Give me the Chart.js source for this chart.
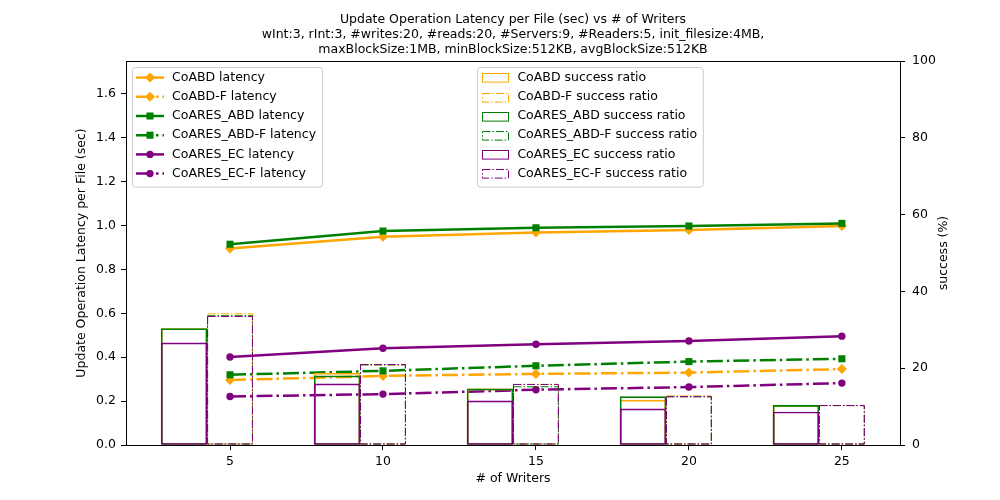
<!DOCTYPE html>
<html>
<head>
<meta charset="utf-8">
<title>Update Operation Latency per File (sec) vs # of Writers</title>
<script src="https://cdn.jsdelivr.net/npm/chart.js@4.4.1/dist/chart.umd.min.js"></script>
<style>
  html, body { margin: 0; padding: 0; background: #fff; }
  #wrap { width: 1000px; height: 500px; }
</style>
</head>
<body>
<div id="wrap"><canvas id="latencyChart"></canvas></div>
<script>
// values
const writers = [5, 10, 15, 20, 25];

const coabdLatency = [0.896, 0.949, 0.968, 0.980, 0.998];
const coabdFLatency = [0.296, 0.315, 0.324, 0.330, 0.346];
const coaresAbdLatency = [0.915, 0.975, 0.990, 0.998, 1.010];
const coaresAbdFLatency = [0.320, 0.338, 0.361, 0.380, 0.393];
const coaresEcLatency = [0.401, 0.441, 0.459, 0.474, 0.496];
const coaresEcFLatency = [0.221, 0.232, 0.252, 0.264, 0.282];

const coabdSuccess = [30.3, 18.7, 14.6, 11.7, 10.3];
const coabdFSuccess = [34.3, 21.0, 15.9, 12.9, 10.4];
const coaresAbdSuccess = [30.3, 18.0, 14.6, 12.6, 10.3];
const coaresAbdFSuccess = [33.8, 21.0, 15.3, 12.7, 10.4];
const coaresEcSuccess = [26.6, 15.9, 11.5, 9.4, 8.6];
const coaresEcFSuccess = [33.6, 21.1, 15.9, 12.7, 10.4];

const xTicks = [5, 10, 15, 20, 25];
const latencyTicks = [0, 0.2, 0.4, 0.6, 0.8, 1.0, 1.2, 1.4, 1.6];
const successTicks = [0, 20, 40, 60, 80, 100];

const titleLines = [
    "Update Operation Latency per File (sec) vs # of Writers",
    "wInt:3, rInt:3, #writes:20, #reads:20, #Servers:9, #Readers:5, init_filesize:4MB,",
    "maxBlockSize:1MB, minBlockSize:512KB, avgBlockSize:512KB",
];
const rightAxisTitle = "success (%)";

const FONT = '"DejaVu Sans", sans-serif';
const FONT_SIZE = 12.5;
const lineDashDot = [16, 4, 2.5, 4];
const barDashDot = [8, 2, 1.5, 2];
const markerRadius = { circle: 3.7, rect: 5, rectRot: 5 };

Chart.defaults.font.family = FONT;
Chart.defaults.font.size = FONT_SIZE;
Chart.defaults.color = "#000";

function points(values, shift) {
    return writers.map((w, i) => ({ x: w + shift, y: values[i] }));
}

function latencySeries(label, values, color, marker, dashed, order) {
    return {
        type: "line",
        label: label,
        data: points(values, 0),
        xAxisID: "x",
        yAxisID: "y",
        borderColor: color,
        backgroundColor: color,
        borderWidth: 2.5,
        borderDash: dashed ? lineDashDot : [],
        pointStyle: marker,
        pointRadius: markerRadius[marker],
        pointBackgroundColor: color,
        pointBorderWidth: 0,
        fill: false,
        tension: 0,
        order: order,
    };
}

function successSeries(label, values, color, faulty, order) {
    return {
        type: "bar",
        label: label,
        data: points(values, faulty ? 0 : -1.5),
        xAxisID: "x",
        yAxisID: "y2",
        grouped: false,
        categoryPercentage: 1,
        barPercentage: 1,
        backgroundColor: "rgba(0,0,0,0)",
        borderColor: color,
        borderWidth: faulty ? 0 : 1,
        borderSkipped: false,
        outlineColor: color,
        outlineDash: faulty ? barDashDot : null,
        order: order,
    };
}

function axisLook() {
    return {
        grid: {
            display: true,
            offset: false,
            drawOnChartArea: false,
            drawTicks: true,
            tickLength: 5,
            color: "#000",
        },
        border: { display: true, color: "#000" },
    };
}

// dash-dot outlines for the "-F" bars, from the bar elements the library placed
const dashedBars = {
    id: "dashedBars",
    afterDatasetDraw(chart, args) {
        const ds = chart.data.datasets[args.index];
        if (ds.type !== "bar" || !ds.outlineDash) {
            return;
        }
        const ctx = chart.ctx;
        ctx.save();
        ctx.strokeStyle = ds.outlineColor;
        ctx.lineWidth = 1;
        ctx.setLineDash(ds.outlineDash);
        args.meta.data.forEach((bar) => {
            const { x, y, base, width } = bar.getProps(["x", "y", "base", "width"], true);
            ctx.strokeRect(x - width / 2 + 0.5, y + 0.5, width - 1, base - y - 1);
        });
        ctx.restore();
    },
};

function drawMarker(ctx, style, x, y, r) {
    ctx.beginPath();
    if (style === "circle") {
        ctx.arc(x, y, r, 0, Math.PI * 2);
    } else if (style === "rect") {
        const h = r * Math.SQRT1_2;
        ctx.rect(x - h, y - h, 2 * h, 2 * h);
    } else {
        ctx.moveTo(x, y - r);
        ctx.lineTo(x + r, y);
        ctx.lineTo(x, y + r);
        ctx.lineTo(x - r, y);
        ctx.closePath();
    }
    ctx.fill();
}

function drawLegendBox(ctx, items, left, top) {
    const rowH = 19.2;
    const firstRow = 10.6;
    const textX = left + 40;
    ctx.font = FONT_SIZE + "px " + FONT;
    const maxW = Math.max(...items.map((d) => ctx.measureText(d.label).width));
    const w = 40 + maxW + 6;
    const h = firstRow + (items.length - 1) * rowH + 13;

    ctx.save();
    ctx.beginPath();
    ctx.roundRect(Math.round(left) + 0.5, Math.round(top) + 0.5, w, h, 3);
    ctx.fillStyle = "rgba(255,255,255,0.8)";
    ctx.fill();
    ctx.strokeStyle = "#cccccc";
    ctx.lineWidth = 1;
    ctx.stroke();

    items.forEach((d, i) => {
        const y = top + firstRow + i * rowH;
        if (d.type === "line") {
            ctx.strokeStyle = d.borderColor;
            ctx.lineWidth = d.borderWidth;
            ctx.setLineDash(d.borderDash);
            ctx.beginPath();
            ctx.moveTo(left + 4, y);
            ctx.lineTo(left + 32, y);
            ctx.stroke();
            ctx.setLineDash([]);
            ctx.fillStyle = d.borderColor;
            drawMarker(ctx, d.pointStyle, left + 18, y, d.pointRadius);
        } else {
            ctx.strokeStyle = d.outlineColor;
            ctx.lineWidth = 1;
            ctx.setLineDash(d.outlineDash || []);
            ctx.strokeRect(Math.round(left + 4.4) + 0.5, Math.round(y - 4.3) + 0.5, 26, 8.6);
            ctx.setLineDash([]);
        }
        ctx.fillStyle = "#000";
        ctx.textBaseline = "middle";
        ctx.textAlign = "left";
        ctx.fillText(d.label, textX, y);
    });
    ctx.restore();
}

const overlays = {
    id: "overlays",
    afterDraw(chart) {
        const ctx = chart.ctx;
        const area = chart.chartArea;
        ctx.save();
        // top frame line, the three other sides are axis borders
        ctx.strokeStyle = "#000";
        ctx.lineWidth = 1;
        ctx.beginPath();
        ctx.moveTo(area.left, Math.round(area.top) + 0.5);
        ctx.lineTo(area.right, Math.round(area.top) + 0.5);
        ctx.stroke();

        // right axis title reads bottom to top, like the left one
        ctx.translate(area.right + 44, (area.top + area.bottom) / 2);
        ctx.rotate(-Math.PI / 2);
        ctx.font = FONT_SIZE + "px " + FONT;
        ctx.fillStyle = "#000";
        ctx.textAlign = "center";
        ctx.textBaseline = "middle";
        ctx.fillText(rightAxisTitle, 0, 0);
        ctx.restore();

        const sets = chart.data.datasets;
        drawLegendBox(ctx, sets.filter((d) => d.type === "line"), area.left + 6, area.top + 6);
        drawLegendBox(ctx, sets.filter((d) => d.type === "bar"), area.left + area.width * 0.454, area.top + 6);
    },
};

function buildChart() {
    const datasets = [
        latencySeries("CoABD latency", coabdLatency, "orange", "rectRot", false, 16),
        latencySeries("CoABD-F latency", coabdFLatency, "orange", "rectRot", true, 15),
        latencySeries("CoARES_ABD latency", coaresAbdLatency, "green", "rect", false, 14),
        latencySeries("CoARES_ABD-F latency", coaresAbdFLatency, "green", "rect", true, 13),
        latencySeries("CoARES_EC latency", coaresEcLatency, "purple", "circle", false, 12),
        latencySeries("CoARES_EC-F latency", coaresEcFLatency, "purple", "circle", true, 11),
        successSeries("CoABD success ratio", coabdSuccess, "orange", false, 6),
        successSeries("CoABD-F success ratio", coabdFSuccess, "orange", true, 5),
        successSeries("CoARES_ABD success ratio", coaresAbdSuccess, "green", false, 4),
        successSeries("CoARES_ABD-F success ratio", coaresAbdFSuccess, "green", true, 3),
        successSeries("CoARES_EC success ratio", coaresEcSuccess, "purple", false, 2),
        successSeries("CoARES_EC-F success ratio", coaresEcFSuccess, "purple", true, 1),
    ];

    new Chart(document.getElementById("latencyChart"), {
        type: "line",
        data: { datasets: datasets },
        plugins: [dashedBars, overlays],
        options: {
            responsive: true,
            maintainAspectRatio: false,
            animation: false,
            layout: { padding: 0 },
            plugins: {
                legend: { display: false },
                tooltip: { enabled: false },
                title: {
                    display: true,
                    fullSize: false,
                    text: titleLines,
                    color: "#000",
                    font: { size: FONT_SIZE, weight: "normal", lineHeight: 1.22 },
                    padding: { top: 12, bottom: 3.25 },
                },
            },
            scales: {
                x: {
                    ...axisLook(),
                    type: "linear",
                    position: "bottom",
                    min: 1.6,
                    max: 26.9,
                    offset: false,
                    afterBuildTicks: (s) => { s.ticks = xTicks.map((v) => ({ value: v })); },
                    afterFit: (s) => { s.height = 55; },
                    ticks: { padding: 4, maxRotation: 0 },
                    title: { display: true, text: "# of Writers", padding: { top: 0, bottom: 13.5 } },
                },
                y: {
                    ...axisLook(),
                    type: "linear",
                    position: "left",
                    min: 0,
                    max: 1.75,
                    afterBuildTicks: (s) => { s.ticks = latencyTicks.map((v) => ({ value: v })); },
                    afterFit: (s) => { s.width = 126; },
                    ticks: { padding: 5, callback: (v) => v.toFixed(1) },
                    title: {
                        display: true,
                        text: "Update Operation Latency per File (sec)",
                        padding: { top: 74.5, bottom: 0 },
                    },
                },
                y2: {
                    ...axisLook(),
                    type: "linear",
                    position: "right",
                    min: 0,
                    max: 100,
                    afterBuildTicks: (s) => { s.ticks = successTicks.map((v) => ({ value: v })); },
                    afterFit: (s) => { s.width = 100; },
                    ticks: { padding: 7 },
                },
            },
        },
    });
}

document.addEventListener("DOMContentLoaded", buildChart);
</script>
</body>
</html>
